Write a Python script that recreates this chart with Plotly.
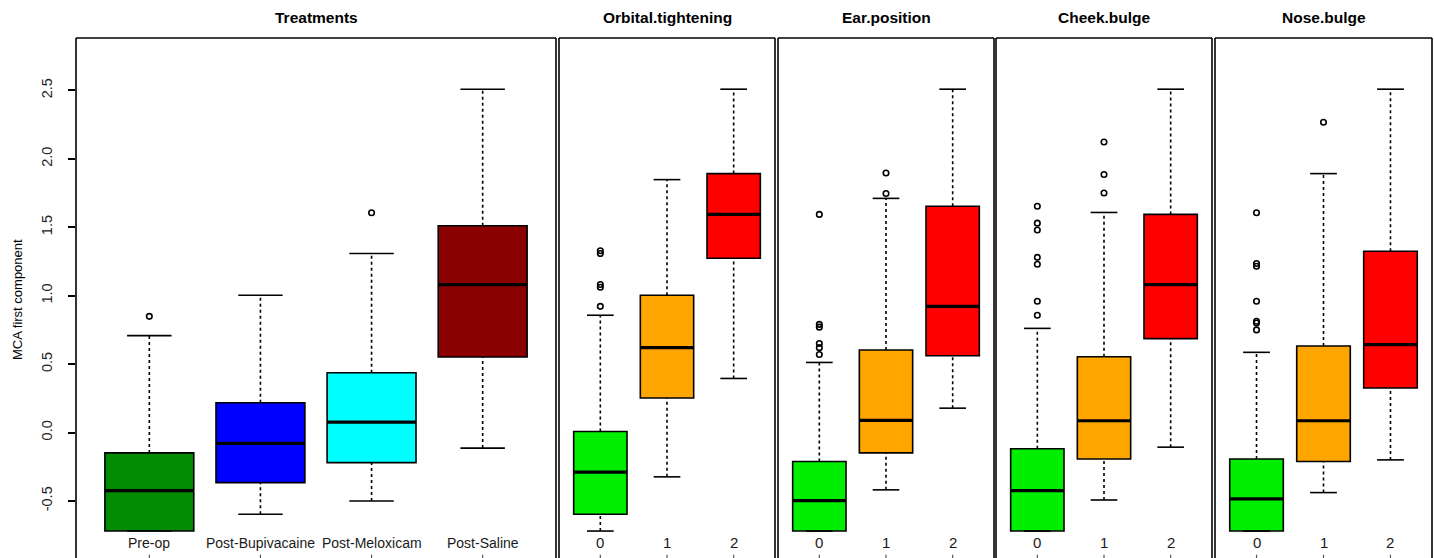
import plotly.graph_objects as go

# ---- Data -------------------------------------------------------------
treatments = ["Pre-op", "Post-Bupivacaine", "Post-Meloxicam", "Post-Saline"]
treat_q1 = [-0.72, -0.366, -0.22, 0.552]
treat_med = [-0.425, -0.08, 0.076, 1.081]
treat_q3 = [-0.149, 0.217, 0.437, 1.511]
treat_lo = [-0.72, -0.597, -0.50, -0.114]
treat_hi = [0.708, 1.003, 1.308, 2.509]
treat_out = [[0.849], [], [1.606], []]

scores = ["0", "1", "2"]

orbital_q1 = [-0.597, 0.252, 1.274]
orbital_med = [-0.29, 0.62, 1.594]
orbital_q3 = [0.007, 1.003, 1.892]
orbital_lo = [-0.72, -0.324, 0.395]
orbital_hi = [0.857, 1.848, 2.509]
orbital_out = [[0.922, 1.062, 1.082, 1.308, 1.328], [], []]

ear_q1 = [-0.72, -0.149, 0.561]
ear_med = [-0.498, 0.088, 0.922]
ear_q3 = [-0.212, 0.603, 1.654]
ear_lo = [-0.72, -0.419, 0.178]
ear_hi = [0.512, 1.711, 2.509]
ear_out = [[0.57, 0.62, 0.65, 0.77, 0.79, 1.594], [1.747, 1.896], []]

cheek_q1 = [-0.72, -0.193, 0.686]
cheek_med = [-0.425, 0.086, 1.081]
cheek_q3 = [-0.119, 0.554, 1.594]
cheek_lo = [-0.72, -0.493, -0.107]
cheek_hi = [0.761, 1.608, 2.509]
cheek_out = [[0.857, 0.959, 1.23, 1.28, 1.48, 1.53, 1.654], [1.75, 1.886, 2.123], []]

nose_q1 = [-0.72, -0.212, 0.325]
nose_med = [-0.485, 0.086, 0.642]
nose_q3 = [-0.193, 0.632, 1.325]
nose_lo = [-0.72, -0.439, -0.2]
nose_hi = [0.586, 1.892, 2.509]
nose_out = [[0.75, 0.80, 0.813, 0.959, 1.215, 1.235, 1.606], [2.267], []]

treat_colors = ["#008B00", "#0000FF", "#00FFFF", "#8B0000"]
score_colors = ["#00EE00", "#FFA500", "#FF0000"]

panels = [
    ("Treatments", treatments, treat_colors, treat_q1, treat_med, treat_q3, treat_lo, treat_hi, treat_out),
    ("Orbital.tightening", scores, score_colors, orbital_q1, orbital_med, orbital_q3, orbital_lo, orbital_hi, orbital_out),
    ("Ear.position", scores, score_colors, ear_q1, ear_med, ear_q3, ear_lo, ear_hi, ear_out),
    ("Cheek.bulge", scores, score_colors, cheek_q1, cheek_med, cheek_q3, cheek_lo, cheek_hi, cheek_out),
    ("Nose.bulge", scores, score_colors, nose_q1, nose_med, nose_q3, nose_lo, nose_hi, nose_out),
]

# ---- Layout geometry (pixels of a 1434 x 558 canvas) -------------------
W, H = 1434, 558
panel_px = [(76, 556), (559, 775), (778, 994), (996, 1212), (1215, 1432)]
plot_top = 38
y_range = [-0.917, 2.883]
label_y = -0.807
BOXW = 0.8
FONT = "Liberation Sans, Arial"

fig = go.Figure()
shapes = []
annotations = []

for i, (title, cats, colors, q1, med, q3, lo, hi, outs) in enumerate(panels):
    xa = "x" if i == 0 else f"x{i + 1}"
    n = len(cats)
    for j in range(n):
        pos = j + 1
        # dashed whiskers
        fig.add_trace(go.Scatter(
            x=[pos, pos, None, pos, pos], y=[q3[j], hi[j], None, lo[j], q1[j]],
            mode="lines", line=dict(color="black", width=1.6, dash="3px,3px"),
            xaxis=xa, yaxis="y", showlegend=False, hoverinfo="skip"))
        # whisker staples
        fig.add_trace(go.Scatter(
            x=[pos - BOXW / 4, pos + BOXW / 4, None, pos - BOXW / 4, pos + BOXW / 4],
            y=[hi[j], hi[j], None, lo[j], lo[j]],
            mode="lines", line=dict(color="black", width=1.6),
            xaxis=xa, yaxis="y", showlegend=False, hoverinfo="skip"))
        # box body
        fig.add_trace(go.Box(
            x=[pos], q1=[q1[j]], median=[med[j]], q3=[q3[j]],
            lowerfence=[q1[j]], upperfence=[q3[j]],
            width=BOXW, whiskerwidth=0, boxpoints=False,
            fillcolor=colors[j], line=dict(color="black", width=1.6),
            xaxis=xa, yaxis="y", showlegend=False, hoverinfo="skip"))
        # thick median bar
        fig.add_trace(go.Scatter(
            x=[pos - BOXW / 2, pos + BOXW / 2], y=[med[j], med[j]],
            mode="lines", line=dict(color="black", width=3.2),
            xaxis=xa, yaxis="y", showlegend=False, hoverinfo="skip"))
        # outliers
        if outs[j]:
            fig.add_trace(go.Scatter(
                x=[pos] * len(outs[j]), y=outs[j], mode="markers",
                marker=dict(symbol="circle-open", size=5.5, color="black", line=dict(width=1.6)),
                xaxis=xa, yaxis="y", showlegend=False, hoverinfo="skip"))
        # category label and small tick below
        annotations.append(dict(
            x=pos, y=label_y, xref=xa, yref="y", text=cats[j], showarrow=False,
            font=dict(family=FONT, size=14 if i == 0 else 15, color="#1a1a1a"),
            xanchor="center", yanchor="middle"))
        fig.add_trace(go.Scatter(
            x=[pos, pos], y=[-0.893, -0.92], mode="lines",
            line=dict(color="#555555", width=1.2),
            xaxis=xa, yaxis="y", showlegend=False, hoverinfo="skip"))

    x0, x1 = panel_px[i]
    d0, d1 = x0 / W, x1 / W
    pad = 0.04 * n
    axis_def = dict(domain=[d0, d1], range=[0.5 - pad, n + 0.5 + pad], anchor="y",
                    showgrid=False, zeroline=False, showticklabels=False, ticks="",
                    showline=False, fixedrange=True)
    fig.layout["xaxis" if i == 0 else f"xaxis{i + 1}"] = axis_def

    # panel frame: left, top and right edges (bottom lies below the canvas)
    ytop = 1 - plot_top / H
    for (ax0, ay0, ax1, ay1) in [(d0, 0, d0, ytop), (d0, ytop, d1, ytop), (d1, 0, d1, ytop)]:
        shapes.append(dict(type="line", xref="paper", yref="paper", x0=ax0, y0=ay0, x1=ax1, y1=ay1,
                           line=dict(color="black", width=1.6)))

    annotations.append(dict(
        x=(d0 + d1) / 2, y=1 - 17 / H, xref="paper", yref="paper", text=f"<b>{title}</b>",
        showarrow=False, font=dict(family=FONT, size=15.5, color="black"),
        xanchor="center", yanchor="middle"))

annotations.append(dict(
    x=17 / W, y=1 - 300 / H, xref="paper", yref="paper", text="MCA first component",
    showarrow=False, textangle=-90, font=dict(family=FONT, size=13, color="black"),
    xanchor="center", yanchor="middle"))

ticks = [-0.5, 0.0, 0.5, 1.0, 1.5, 2.0, 2.5]
fig.update_layout(
    width=W, height=H, margin=dict(l=0, r=0, t=0, b=0),
    paper_bgcolor="white", plot_bgcolor="white",
    yaxis=dict(domain=[0, 1 - plot_top / H], range=y_range, anchor="x",
               tickvals=ticks, ticktext=[f"{t:.1f}" for t in ticks],
               ticks="outside", ticklen=7, tickwidth=1.5, tickcolor="black",
               ticklabelstandoff=10,
               tickangle=-90, tickfont=dict(family=FONT, size=14.5, color="#222222"),
               showgrid=False, zeroline=False, showline=False, fixedrange=True),
    shapes=shapes, annotations=annotations, boxgap=0,
)

fig.write_html("out.html")
